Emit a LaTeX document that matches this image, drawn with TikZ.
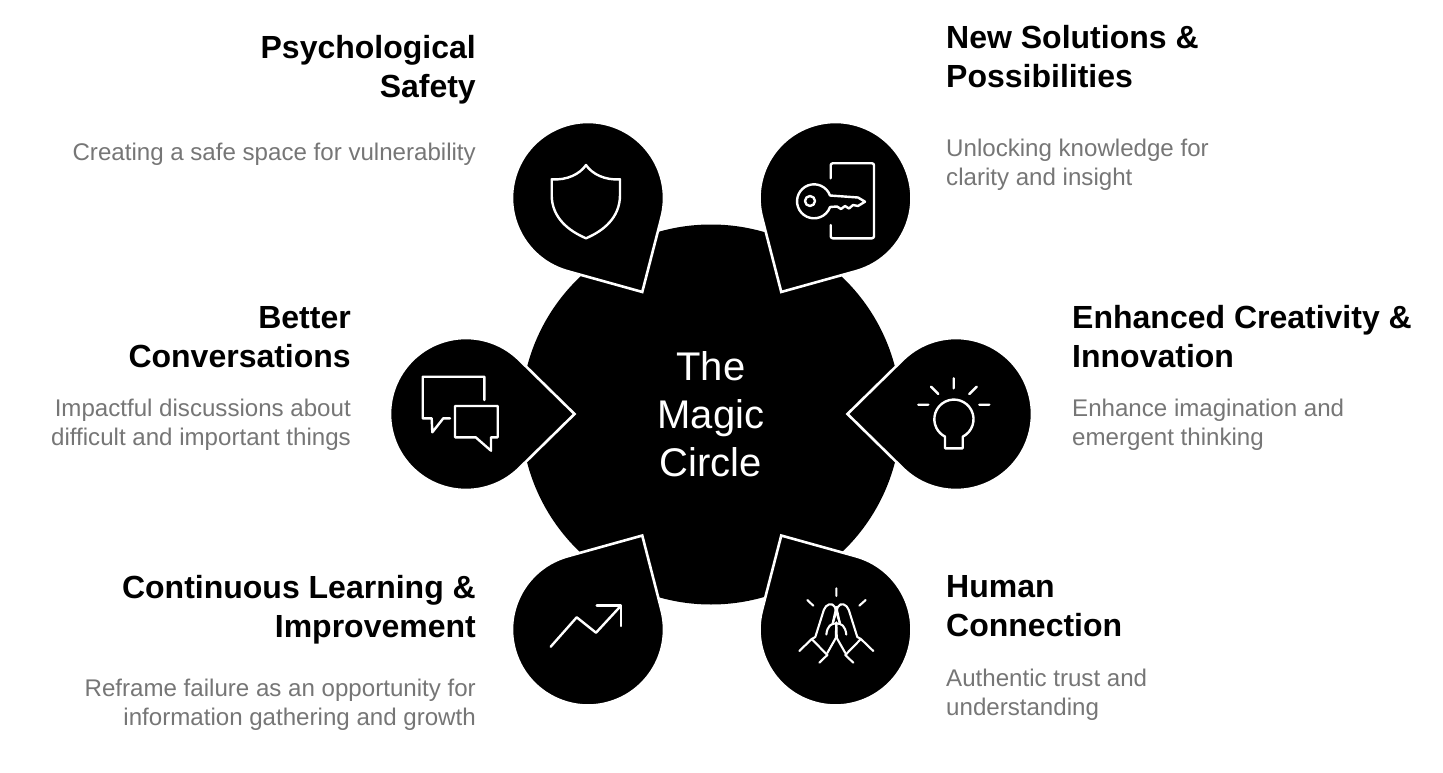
\documentclass[tikz,border=0pt]{standalone}
\usepackage{fontspec}
\setmainfont{Liberation Sans}
\definecolor{descgray}{RGB}{118,118,118}
\tikzset{
  x=1pt,y=-1pt,
  tear/.style={fill=black,draw=white,line width=2.6pt,line join=miter,miter limit=10},
  icon/.style={draw=white,line width=2.4pt,line cap=round,line join=round},
  hub/.style={circle,fill=black,inner sep=0pt,minimum size=380pt,text=white,align=center,font=\fontsize{40}{48}\selectfont},
  ttlR/.style={anchor=north east,inner sep=0pt,align=right,font=\fontsize{32}{39}\selectfont\bfseries,execute at begin node=\strut},
  ttlL/.style={anchor=north west,inner sep=0pt,align=left,font=\fontsize{32}{39}\selectfont\bfseries,execute at begin node=\strut},
  dscR/.style={anchor=north east,inner sep=0pt,align=right,text=descgray,font=\fontsize{24.1}{29}\selectfont,execute at begin node=\strut},
  dscL/.style={anchor=north west,inner sep=0pt,align=left,text=descgray,font=\fontsize{24.1}{29}\selectfont,execute at begin node=\strut},
}
\newcommand{\teardrop}[3]{\path[tear,shift={(#1,#2)}] ({#3+45.5}:76pt) arc[start angle=#3+45.5,delta angle=269,radius=76pt] -- (#3:108.5pt) -- cycle;}
\begin{document}
\begin{tikzpicture}
\useasboundingbox (0,0) rectangle (1443,773);
\fill[white] (0,0) rectangle (1443,773);
\node[hub] (hubc) at (711,414.5) {The\\Magic\\Circle};
\teardrop{588}{198}{-60}
\teardrop{835.5}{198}{-120}
\teardrop{466}{414}{0}
\teardrop{956}{414}{180}
\teardrop{588}{629.5}{60}
\teardrop{835.5}{629.5}{120}
% shield
\draw[icon] (586,165) .. controls (592,174) and (605,180.5) .. (620,179.3) -- (620,195) .. controls (620,218) and (603,231) .. (586,238.3) .. controls (569,231) and (551.7,218) .. (551.7,195) -- (551.7,179.3) .. controls (567,180.5) and (580,174) .. cycle;
% key and door
\draw[icon,rounded corners=2pt] (830.7,178.3) -- (830.7,163.3) -- (874,163.3) -- (874,238.3) -- (830.7,238.3) -- (830.7,225);
\draw[icon] (810,201) circle[radius=5pt];
\draw[icon] (830,195.5) arc[start angle=20,end angle=340,radius=17pt];
\draw[icon] (830,195.5) -- (858,197.5) -- (865,201.7) -- (858,206) -- (853,205) -- (849,208.5) -- (845,206) -- (841,209) -- (837,206.5) -- (830,207);
% chat
\draw[icon] (484.3,400) -- (484.3,376.7) -- (422.7,376.7) -- (422.7,418.3) -- (431.7,418.3) -- (432.3,432.3) -- (443.3,418.3) -- (450,418.3);
\draw[icon] (455,406) -- (497.7,406) -- (497.7,437.3) -- (491,437.3) -- (491,450.7) -- (475.7,437.3) -- (455,437.3) -- cycle;
% bulb
\draw[icon] (953.7,378.3) -- (953.7,388.3) (931,386.7) -- (938.3,394) (976.7,386.7) -- (969.3,394) (918.3,404.7) -- (928.3,404.7) (979.3,404.7) -- (989.3,404.7);
\draw[icon] (945,436.7) -- (945,448.3) -- (962.7,448.3) -- (962.7,436.7) arc[start angle=-63.4,delta angle=306.8,radius=19.6pt];
% trend arrow
\draw[icon] (550.7,646.7) -- (576.7,617.3) -- (596,632.7) -- (620.7,606);
\draw[icon] (596.7,605.3) -- (621,605.3) -- (621,626);
% praying hands
\draw[icon,line width=2.1pt] (836.3,588.3) -- (836.3,596) (807.3,600) -- (813.3,605.7) (865.7,600) -- (859.3,605.7);
\foreach \s in {1,-1}{
\begin{scope}[shift={(836.3,0)},xscale=\s]
\draw[icon,line width=2.1pt] (-37,651) -- (-24.6,639) -- (-9,655) -- (-17,662.7);
\draw[icon,line width=2.1pt] (-24.6,639) -- (-21,637) -- (-12.5,610) .. controls (-10.5,604) and (-4,602) .. (-1.5,607) -- (3.5,623);
\draw[icon,line width=2.1pt] (-9,653) -- (-0.5,638) -- (0,622.5);
\draw[icon,line width=2.1pt] (-10,634.5) .. controls (-9,626) and (-5,623) .. (0,623.5);
\draw[icon,line width=2.1pt] (0,607) -- (-3.5,623);
\end{scope}}
% texts
\node[ttlR] (t1) at (476,34.7) {Psychological\\Safety};
\node[dscR] (d1) at (476,139.7) {Creating a safe space for vulnerability};
\node[ttlL] (t2) at (946,24.7) {New Solutions \&\\Possibilities};
\node[dscL] (d2) at (946,138.7) {Unlocking knowledge for\\clarity and insight};
\node[ttlR] (t3) at (351,306.7) {Better\\Conversations};
\node[dscR] (d3) at (351,398.7) {Impactful discussions about\\difficult and important things};
\node[ttlL] (t4) at (1072,304.7) {Enhanced Creativity \&\\Innovation};
\node[dscL] (d4) at (1072,398.7) {Enhance imagination and\\emergent thinking};
\node[ttlR] (t5) at (476,574.7) {Continuous Learning \&\\Improvement};
\node[dscR] (d5) at (476,678.7) {Reframe failure as an opportunity for\\information gathering and growth};
\node[ttlL] (t6) at (946,575.7) {Human\\Connection};
\node[dscL] (d6) at (946,668.7) {Authentic trust and\\understanding};
\end{tikzpicture}
\end{document}
